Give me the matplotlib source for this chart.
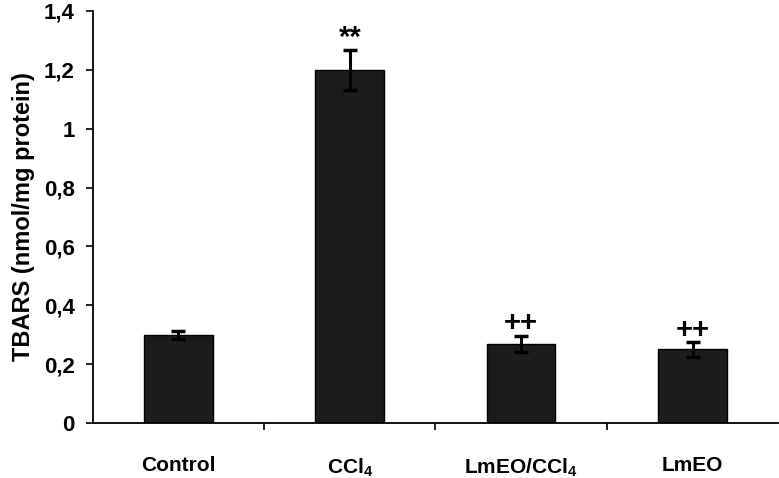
import matplotlib
matplotlib.use("Agg")
import matplotlib.pyplot as plt

plt.rcParams['font.family'] = ['Liberation Sans', 'DejaVu Sans']
plt.rcParams['font.weight'] = 'bold'
plt.rcParams['mathtext.fontset'] = 'custom'
plt.rcParams['mathtext.rm'] = 'Liberation Sans:bold'
plt.rcParams['mathtext.it'] = 'Liberation Sans:bold'
plt.rcParams['mathtext.bf'] = 'Liberation Sans:bold'

# data
groups = ['Control', 'CCl$_4$', 'LmEO/CCl$_4$', 'LmEO']
tbars = [0.30, 1.20, 0.268, 0.25]
sem = [0.013, 0.067, 0.028, 0.025]
marks = ['', '**', '++', '++']

fig = plt.figure(figsize=(7.79, 4.78), dpi=100)
ax = fig.add_axes([0.119, 0.115, 0.88, 0.862])

x = range(len(groups))
ax.bar(x, tbars, width=0.40, color='#1c1c1c', edgecolor='black', linewidth=1,
       yerr=sem, error_kw=dict(ecolor='black', elinewidth=2.2, capsize=5, capthick=2.5))

for i, (v, e, m) in enumerate(zip(tbars, sem, marks)):
  if m:
    ax.text(i, v + e - 0.005, m, ha='center', va='bottom', fontsize=21, fontweight='bold')

ax.set_xlim(-0.5, 3.5)
ax.set_ylim(0, 1.4)
ax.set_yticks([0, 0.2, 0.4, 0.6, 0.8, 1.0, 1.2, 1.4])
ax.set_yticklabels(['0', '0,2', '0,4', '0,6', '0,8', '1', '1,2', '1,4'], fontsize=16, fontweight='bold')

# category labels without ticks, ticks at the boundaries
ax.set_xticks([0.5, 1.5, 2.5])
ax.set_xticklabels([])
ax.set_xticks(list(x), minor=True)
ax.set_xticklabels(groups, minor=True, fontsize=15, fontweight='bold')
ax.tick_params(axis='x', which='minor', length=0, pad=24)
ax.tick_params(axis='x', which='major', length=5, width=1.2, direction='out')
ax.tick_params(axis='y', length=5, width=1.2, direction='out', pad=8)

ax.set_ylabel('TBARS (nmol/mg protein)', fontsize=17, fontweight='bold', labelpad=6)

for s in ['top', 'right']:
  ax.spines[s].set_visible(False)
for s in ['left', 'bottom']:
  ax.spines[s].set_linewidth(1.3)

fig.savefig('out.png', dpi=100)
